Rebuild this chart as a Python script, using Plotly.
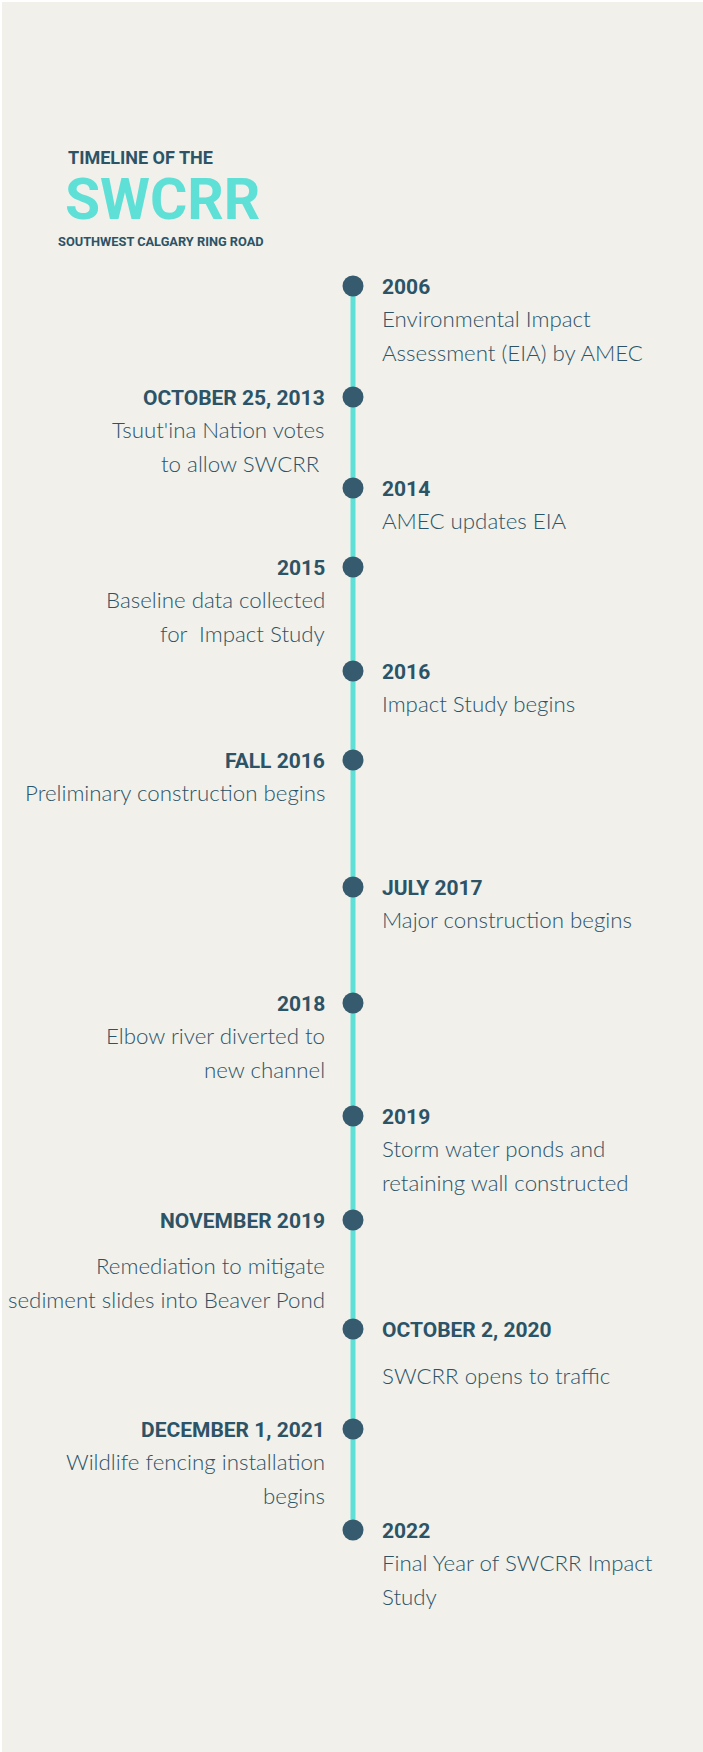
import plotly.graph_objects as go

# ---------------- data ----------------
event_titles = [
    "2006", "OCTOBER 25, 2013", "2014", "2015", "2016", "FALL 2016",
    "JULY 2017", "2018", "2019", "NOVEMBER 2019", "OCTOBER 2, 2020",
    "DECEMBER 1, 2021", "2022",
]
event_lines = [
    ["Environmental Impact", "Assessment (EIA) by AMEC"],
    ["Tsuut'ina Nation votes", "to allow SWCRR\u00a0"],
    ["AMEC updates EIA"],
    ["Baseline data collected", "for\u00a0 Impact Study"],
    ["Impact Study begins"],
    ["Preliminary construction begins"],
    ["Major construction begins"],
    ["Elbow river diverted to", "new channel"],
    ["Storm water ponds and", "retaining wall constructed"],
    ["Remediation to mitigate", "sediment slides into Beaver Pond"],
    ["SWCRR opens to traffic"],
    ["Wildlife fencing installation", "begins"],
    ["Final Year of SWCRR Impact", "Study"],
]
event_sides = ["right", "left", "right", "left", "right", "left",
               "right", "left", "right", "left", "right", "left", "right"]
# vertical position of each event along the timeline (pixels from top)
event_pos = [286, 397, 488, 567, 671, 760, 887, 1003, 1116, 1220, 1329, 1429, 1530]

title_top = "TIMELINE OF THE"
title_main = "SWCRR"
title_sub = "SOUTHWEST CALGARY RING ROAD"

# ---------------- styling / layout ----------------
W, H = 703, 1752
LINE_X = 353
BG = "#F1F0EB"
DARK = "#2C5366"
DOT = "#365B6E"
TEAL = "#5EE0D6"
HEAD_FONT = "Roboto"
BODY_FONT = "Lato"
body_first_gap = {9: 45, 10: 46}   # events with a larger gap before their body text

fig = go.Figure()

# timeline line
fig.add_trace(go.Scatter(
    x=[LINE_X] * len(event_pos), y=event_pos, mode="lines",
    line=dict(color=TEAL, width=5), hoverinfo="skip", showlegend=False,
))
# dots
fig.add_trace(go.Scatter(
    x=[LINE_X] * len(event_pos), y=event_pos, mode="markers",
    marker=dict(color=DOT, size=21, line=dict(width=0)),
    hoverinfo="skip", showlegend=False,
))

annotations = []
for i, (t, lines, side, yv) in enumerate(zip(event_titles, event_lines, event_sides, event_pos)):
    if side == "right":
        xa, anchor = LINE_X + 27, "left"
    else:
        xa, anchor = LINE_X - 26, "right"
    annotations.append(dict(
        x=xa, y=yv + 1, xref="x", yref="y", text=t, showarrow=False,
        xanchor=anchor, yanchor="middle", align=anchor,
        font=dict(family=HEAD_FONT, size=21, color=DARK, weight=700),
    ))
    gap = body_first_gap.get(i, 32)
    for j, ln in enumerate(lines):
        annotations.append(dict(
            x=xa, y=yv + gap + 34 * j, xref="x", yref="y", text=ln, showarrow=False,
            xanchor=anchor, yanchor="middle", align=anchor,
            font=dict(family=BODY_FONT, size=22.3, color=DARK, weight=300),
        ))

# title block
annotations.append(dict(x=66, y=157, xref="x", yref="y", text=title_top, showarrow=False,
                        xanchor="left", yanchor="middle",
                        font=dict(family=HEAD_FONT, size=18, color=DARK, weight=700)))
annotations.append(dict(x=63, y=199, xref="x", yref="y", text=title_main, showarrow=False,
                        xanchor="left", yanchor="middle",
                        font=dict(family=HEAD_FONT, size=57, color=TEAL, weight=700)))
annotations.append(dict(x=56, y=241, xref="x", yref="y", text=title_sub, showarrow=False,
                        xanchor="left", yanchor="middle",
                        font=dict(family=HEAD_FONT, size=12.8, color=DARK, weight=700)))

fig.update_layout(
    width=W, height=H,
    margin=dict(l=0, r=0, t=0, b=0),
    paper_bgcolor="white", plot_bgcolor="white",
    xaxis=dict(range=[0, W], visible=False, fixedrange=True),
    yaxis=dict(range=[H, 0], visible=False, fixedrange=True),
    annotations=annotations,
    shapes=[dict(type="rect", xref="paper", yref="paper", x0=2 / W, x1=1, y0=0, y1=1 - 2 / H,
                 fillcolor=BG, line=dict(width=0), layer="below")],
    showlegend=False,
)

fig.write_html(
    "out.html",
    config={"displayModeBar": False},
    post_script="document.body.style.margin='0';document.body.style.overflow='hidden';",
)
